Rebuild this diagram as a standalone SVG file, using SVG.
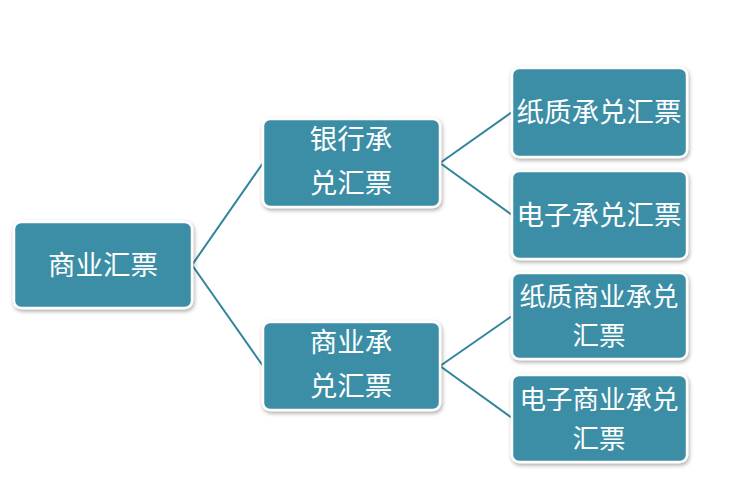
<svg xmlns="http://www.w3.org/2000/svg" width="748" height="487" viewBox="0 0 748 487">
<defs>
<filter id="sh" x="-10%" y="-10%" width="125%" height="130%">
<feGaussianBlur in="SourceAlpha" stdDeviation="2"/>
<feOffset dx="1" dy="2" result="b"/>
<feComponentTransfer><feFuncA type="linear" slope="0.35"/></feComponentTransfer>
<feMerge><feMergeNode/><feMergeNode in="SourceGraphic"/></feMerge>
</filter>
</defs>
<style>
.box{fill:#3A8EA5;stroke:#ffffff;stroke-width:2.5;filter:url(#sh)}
.t{fill:#ffffff;font-family:"Noto Sans CJK SC","Noto Sans",sans-serif;font-size:27.5px;text-anchor:middle}
.s{font-size:26.5px}
.c{stroke:#31849B;stroke-width:2;fill:none}
</style>
<rect width="748" height="487" fill="#ffffff"/>
<g id="connectors">
<path class="c" d="M192,265 L263,163 M192,265 L263,366 M440,163 L512,112 M440,163 L512,215 M440,366 L512,316 M440,366 L512,418"/>
</g>
<g id="root"><rect class="box" x="14" y="222" width="178" height="86" rx="7"/><text class="t" x="103" y="275">商业汇票</text></g>
<g id="bank"><rect class="box" x="263" y="119" width="177" height="88" rx="7"/><text class="t" x="351" y="149">银行承</text><text class="t" x="351" y="193">兑汇票</text></g>
<g id="commercial"><rect class="box" x="263" y="322" width="177" height="88" rx="7"/><text class="t" x="351" y="352">商业承</text><text class="t" x="351" y="396">兑汇票</text></g>
<g id="paper-bank"><rect class="box" x="512" y="68" width="175" height="89" rx="7"/><text class="t" x="599" y="122">纸质承兑汇票</text></g>
<g id="e-bank"><rect class="box" x="512" y="171" width="175" height="88" rx="7"/><text class="t" x="599" y="225">电子承兑汇票</text></g>
<g id="paper-com"><rect class="box" x="512" y="273" width="175" height="86" rx="7"/><text class="t s" x="599" y="306">纸质商业承兑</text><text class="t s" x="599" y="345">汇票</text></g>
<g id="e-com"><rect class="box" x="512" y="375" width="175" height="87" rx="7"/><text class="t s" x="599" y="409">电子商业承兑</text><text class="t s" x="599" y="448">汇票</text></g>
</svg>
